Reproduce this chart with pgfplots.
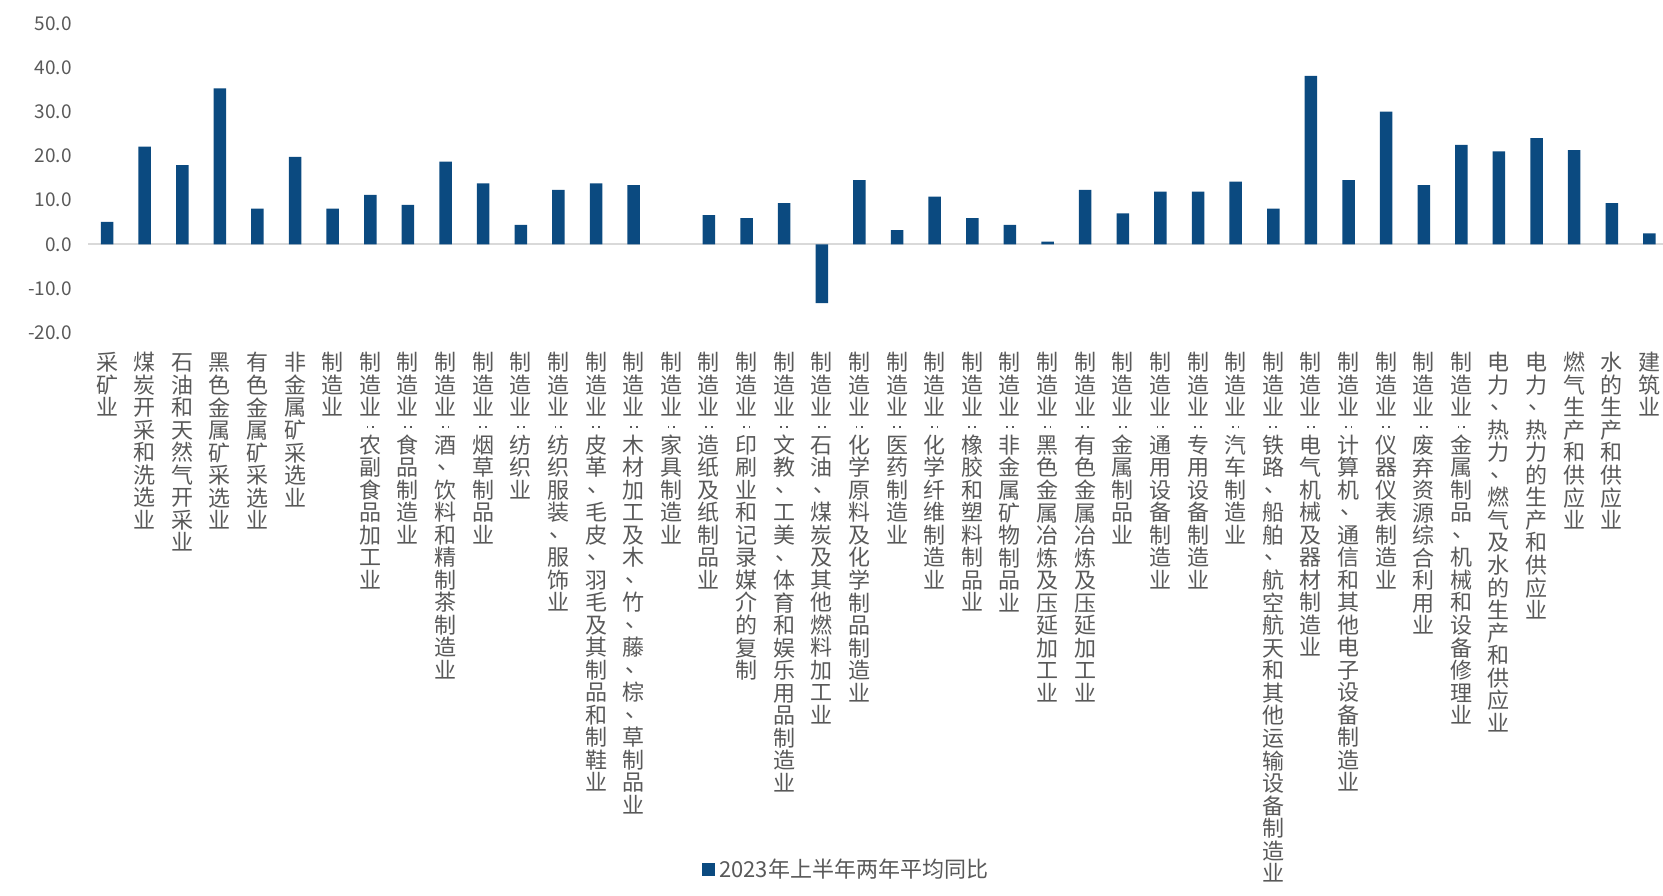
\documentclass[border=0pt]{standalone}
\usepackage{pgfplots}
\pgfplotsset{compat=1.18}
\usepackage{fontspec}
\usepackage{graphicx}
\setmainfont{Noto Sans CJK SC}
\definecolor{c1}{HTML}{0B4A80}
\definecolor{tx}{HTML}{595959}
\newcommand\vc{\vbox to 7.5pt{\vss\hbox to 12pt{\hss\vrule width 0.9pt height 0.9pt\hskip 2pt\vrule width 0.9pt height 0.9pt\hss}\vss}}
\newcommand\vlab[1]{\vbox{\offinterlineskip\vlabaux#1\relax}}
\def\vlabaux#1{\ifx\relax#1\else\vlabone{#1}\expandafter\vlabaux\fi}
\def\vlabone#1{\ifx\vc#1\vc\else\ifx 、#1\hbox to 12pt{\hss\vrule height 9.25pt depth 2pt width 0pt\raisebox{3pt}{\hspace{2.5pt}、}\hss}\else\hbox to 12pt{\hss\vrule height 9.25pt depth 2pt width 0pt #1\hss}\fi\fi}
\begin{document}
\begin{tikzpicture}
\begin{axis}[
  at={(0,0)}, anchor=south west,
  scale only axis, width=787.4pt, height=154.7pt,
  xmin=-0.5, xmax=41.36, ymin=-20, ymax=50,
  axis line style={draw=none},
  major tick length=0pt,
  ytick={-20,-10,...,50},
  xtick={0,...,41},
  yticklabel style={anchor=east, inner sep=0pt, xshift=-8pt, text=tx, font=\fontsize{9.5}{11}\selectfont},
  /pgf/number format/.cd, fixed, fixed zerofill, precision=1, assume math mode=true,
  /pgfplots/.cd,
  xticklabel style={anchor=north, inner sep=0pt, yshift=-9.6pt, text=tx, font=\fontsize{11}{11}\selectfont},
  xticklabels={
    \vlab{采矿业},
    \vlab{煤炭开采和洗选业},
    \vlab{石油和天然气开采业},
    \vlab{黑色金属矿采选业},
    \vlab{有色金属矿采选业},
    \vlab{非金属矿采选业},
    \vlab{制造业},
    \vlab{制造业\vc 农副食品加工业},
    \vlab{制造业\vc 食品制造业},
    \vlab{制造业\vc 酒、饮料和精制茶制造业},
    \vlab{制造业\vc 烟草制品业},
    \vlab{制造业\vc 纺织业},
    \vlab{制造业\vc 纺织服装、服饰业},
    \vlab{制造业\vc 皮革、毛皮、羽毛及其制品和制鞋业},
    \vlab{制造业\vc 木材加工及木、竹、藤、棕、草制品业},
    \vlab{制造业\vc 家具制造业},
    \vlab{制造业\vc 造纸及纸制品业},
    \vlab{制造业\vc 印刷业和记录媒介的复制},
    \vlab{制造业\vc 文教、工美、体育和娱乐用品制造业},
    \vlab{制造业\vc 石油、煤炭及其他燃料加工业},
    \vlab{制造业\vc 化学原料及化学制品制造业},
    \vlab{制造业\vc 医药制造业},
    \vlab{制造业\vc 化学纤维制造业},
    \vlab{制造业\vc 橡胶和塑料制品业},
    \vlab{制造业\vc 非金属矿物制品业},
    \vlab{制造业\vc 黑色金属冶炼及压延加工业},
    \vlab{制造业\vc 有色金属冶炼及压延加工业},
    \vlab{制造业\vc 金属制品业},
    \vlab{制造业\vc 通用设备制造业},
    \vlab{制造业\vc 专用设备制造业},
    \vlab{制造业\vc 汽车制造业},
    \vlab{制造业\vc 铁路、船舶、航空航天和其他运输设备制造业},
    \vlab{制造业\vc 电气机械及器材制造业},
    \vlab{制造业\vc 计算机、通信和其他电子设备制造业},
    \vlab{制造业\vc 仪器仪表制造业},
    \vlab{制造业\vc 废弃资源综合利用业},
    \vlab{制造业\vc 金属制品、机械和设备修理业},
    \vlab{电力、热力、燃气及水的生产和供应业},
    \vlab{电力、热力的生产和供应业},
    \vlab{燃气生产和供应业},
    \vlab{水的生产和供应业},
    \vlab{建筑业}
  },
  legend style={draw=none, at={(0.482,-1.736)}, anchor=center, text=tx,
    font=\fontsize{11}{13}\selectfont, inner sep=0pt},
  legend image code/.code={\fill[c1] (0pt,-3.25pt) rectangle (6.5pt,3.25pt);},
]
\draw[color=black!15, line width=1pt] (axis cs:-0.5,0) -- (axis cs:41.36,0);
\addplot[ybar, bar width=6.25pt, fill=c1, draw=none] coordinates {
(0,5.1) (1,22.1) (2,17.9) (3,35.3) (4,8.1) (5,19.8) (6,8.1) (7,11.2) (8,8.9) (9,18.7)
(10,13.8) (11,4.4) (12,12.3) (13,13.8) (14,13.4) (16,6.6) (17,5.9) (18,9.3) (19,-13.3)
(20,14.5) (21,3.2) (22,10.8) (23,5.9) (24,4.4) (25,0.6) (26,12.3) (27,7.0) (28,11.9) (29,11.9)
(30,14.2) (31,8.1) (32,38.1) (33,14.5) (34,30.0) (35,13.4) (36,22.5) (37,21.0) (38,24.0) (39,21.3)
(40,9.3) (41,2.5)
};
\addlegendentry{2023年上半年两年平均同比}
\end{axis}
\pgfresetboundingbox
\path (-44.1pt,-281.15pt) rectangle (787.4pt,166.35pt);
\end{tikzpicture}
\end{document}
